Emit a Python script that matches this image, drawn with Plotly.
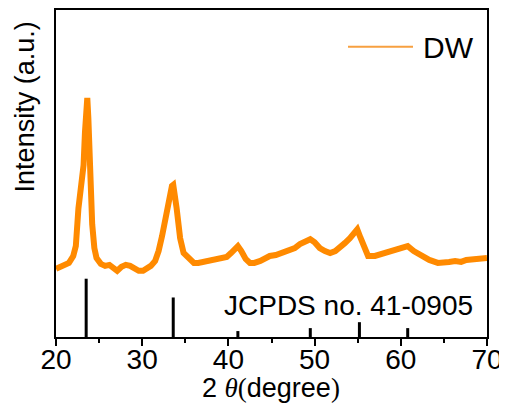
import plotly.graph_objects as go

# XRD pattern (2theta in degrees, intensity in arbitrary units)
two_theta = [20.0, 20.5, 21.0, 21.5, 22.0, 22.3, 22.6, 23.0, 23.2, 23.36, 23.5, 23.63, 23.75, 23.87,
             24.06, 24.2, 24.45, 24.7, 25.2, 25.7, 26.2, 26.7, 27.1, 27.6, 28.1, 28.6, 29.1, 29.6,
             30.1, 30.6, 31.0, 31.5, 31.9, 32.3, 32.6, 32.9, 33.2, 33.45, 33.6, 33.8, 34.0, 34.2,
             34.4, 34.8, 35.5, 36.0, 36.5, 37.0, 37.5, 38.0, 38.7, 39.3, 39.8, 40.3, 40.7, 41.1,
             41.5, 42.0, 42.5, 43.0, 43.7, 44.3, 44.8, 45.5, 46.2, 47.1, 47.7, 48.3, 48.9, 49.5,
             50.0, 50.6, 51.2, 51.8, 52.4, 52.9, 53.5, 54.1, 54.6, 54.95, 55.3, 55.6, 55.9, 56.2,
             57.0, 57.8, 58.5, 59.0, 59.6, 60.2, 60.8, 61.5, 62.0, 62.5, 63.3, 64.3, 65.0, 65.6,
             66.3, 67.0, 67.6, 68.3, 69.0, 70.0]
intensity = [69, 71, 72, 75, 82, 92, 130, 157, 174, 207, 232, 242, 222, 190,
             147, 114, 90, 80, 74, 72, 73, 70, 67, 71, 73, 72, 69, 67,
             67, 69, 72, 77, 87, 102, 117, 132, 144, 153, 154, 145, 130, 115,
             100, 85, 78, 75, 75, 76, 76, 77, 79, 80, 81, 85, 89, 92,
             87, 79, 75, 75, 77, 80, 82, 83, 85, 87, 90, 94, 97, 99,
             96, 90, 87, 85, 87, 90, 95, 100, 105, 109, 101, 94, 87, 82,
             82, 84, 86, 87, 88, 90, 92, 87, 84, 82, 78, 75, 75, 76,
             77, 76, 78, 79, 80, 80]

# Reference pattern JCPDS no. 41-0905 (stick positions and relative heights)
ref_pos = [23.5, 33.6, 41.1, 49.5, 55.2, 60.8]
ref_height = [59, 40, 6, 9, 15, 9]

series_name = "DW"
ref_label = "JCPDS no. 41-0905"
x_ticks = [20, 30, 40, 50, 60, 70]
x_minor = [25, 35, 45, 55, 65]

stick_x, stick_y = [], []
for p, h in zip(ref_pos, ref_height):
    stick_x += [p, p, None]
    stick_y += [0, h, None]

orange = "#FF8A00"
font = "Liberation Sans, Arial, sans-serif"

# page body has an 8px margin: figure is sized to fit the 507x416 window
W, H = 499, 408
L, R, T, B = 48, 20, 0, 79
pw, ph = W - L - R, H - T - B

fig = go.Figure()
fig.add_trace(go.Scatter(x=two_theta, y=intensity, mode="lines",
                         line=dict(color=orange, width=6), showlegend=False,
                         name=series_name))
fig.add_trace(go.Scatter(x=stick_x, y=stick_y, mode="lines",
                         line=dict(color="black", width=3), showlegend=False))

fig.update_layout(
    width=W, height=H,
    margin=dict(l=L, r=R, t=T, b=B, pad=0),
    plot_bgcolor="white", paper_bgcolor="white",
    font=dict(family=font, color="black", size=28),
    showlegend=False,
    xaxis=dict(range=[20, 70], tickvals=x_ticks,
               ticks="outside", ticklen=7, tickwidth=2, tickcolor="black",
               minor=dict(tickvals=x_minor, ticks="outside", ticklen=4,
                          tickwidth=2, tickcolor="black"),
               showline=True, linewidth=2, linecolor="black", mirror=True,
               showgrid=False, zeroline=False, ticklabelstandoff=-11,
               tickfont=dict(size=28, family=font)),
    yaxis=dict(range=[0, 331], showticklabels=False, ticks="",
               showline=True, linewidth=2, linecolor="black", mirror=True,
               showgrid=False, zeroline=False),
)

def px_x(px):
    return (px - 8 - L) / pw

def px_y(py):
    return 1 - (py - 8 - T) / ph

# legend drawn manually (long line sample)
fig.add_shape(type="line", xref="paper", yref="paper",
              x0=px_x(348), x1=px_x(413), y0=px_y(45), y1=px_y(45),
              line=dict(color="#F7A040", width=2))
fig.add_annotation(text=series_name, xref="paper", yref="paper",
                   x=px_x(421), y=px_y(46),
                   xanchor="left", yanchor="middle", showarrow=False,
                   font=dict(size=30, family=font))

fig.add_annotation(text=ref_label, xref="x", yref="y", x=53.9, y=32,
                   xanchor="center", yanchor="middle", showarrow=False,
                   font=dict(size=28, family=font))

fig.add_annotation(text="Intensity (a.u.)", xref="paper", yref="paper",
                   x=px_x(25), y=px_y(106), textangle=-90,
                   xanchor="center", yanchor="middle", showarrow=False,
                   font=dict(size=27, family=font))

fig.add_annotation(
    text='2 <span style="font-family:Liberation Serif"><i>θ</i>(</span>degree'
         '<span style="font-family:Liberation Serif">)</span>',
    xref="paper", yref="paper", x=px_x(271), y=px_y(388),
    xanchor="center", yanchor="middle", showarrow=False,
    font=dict(size=27, family=font))

fig.write_html("out.html")
